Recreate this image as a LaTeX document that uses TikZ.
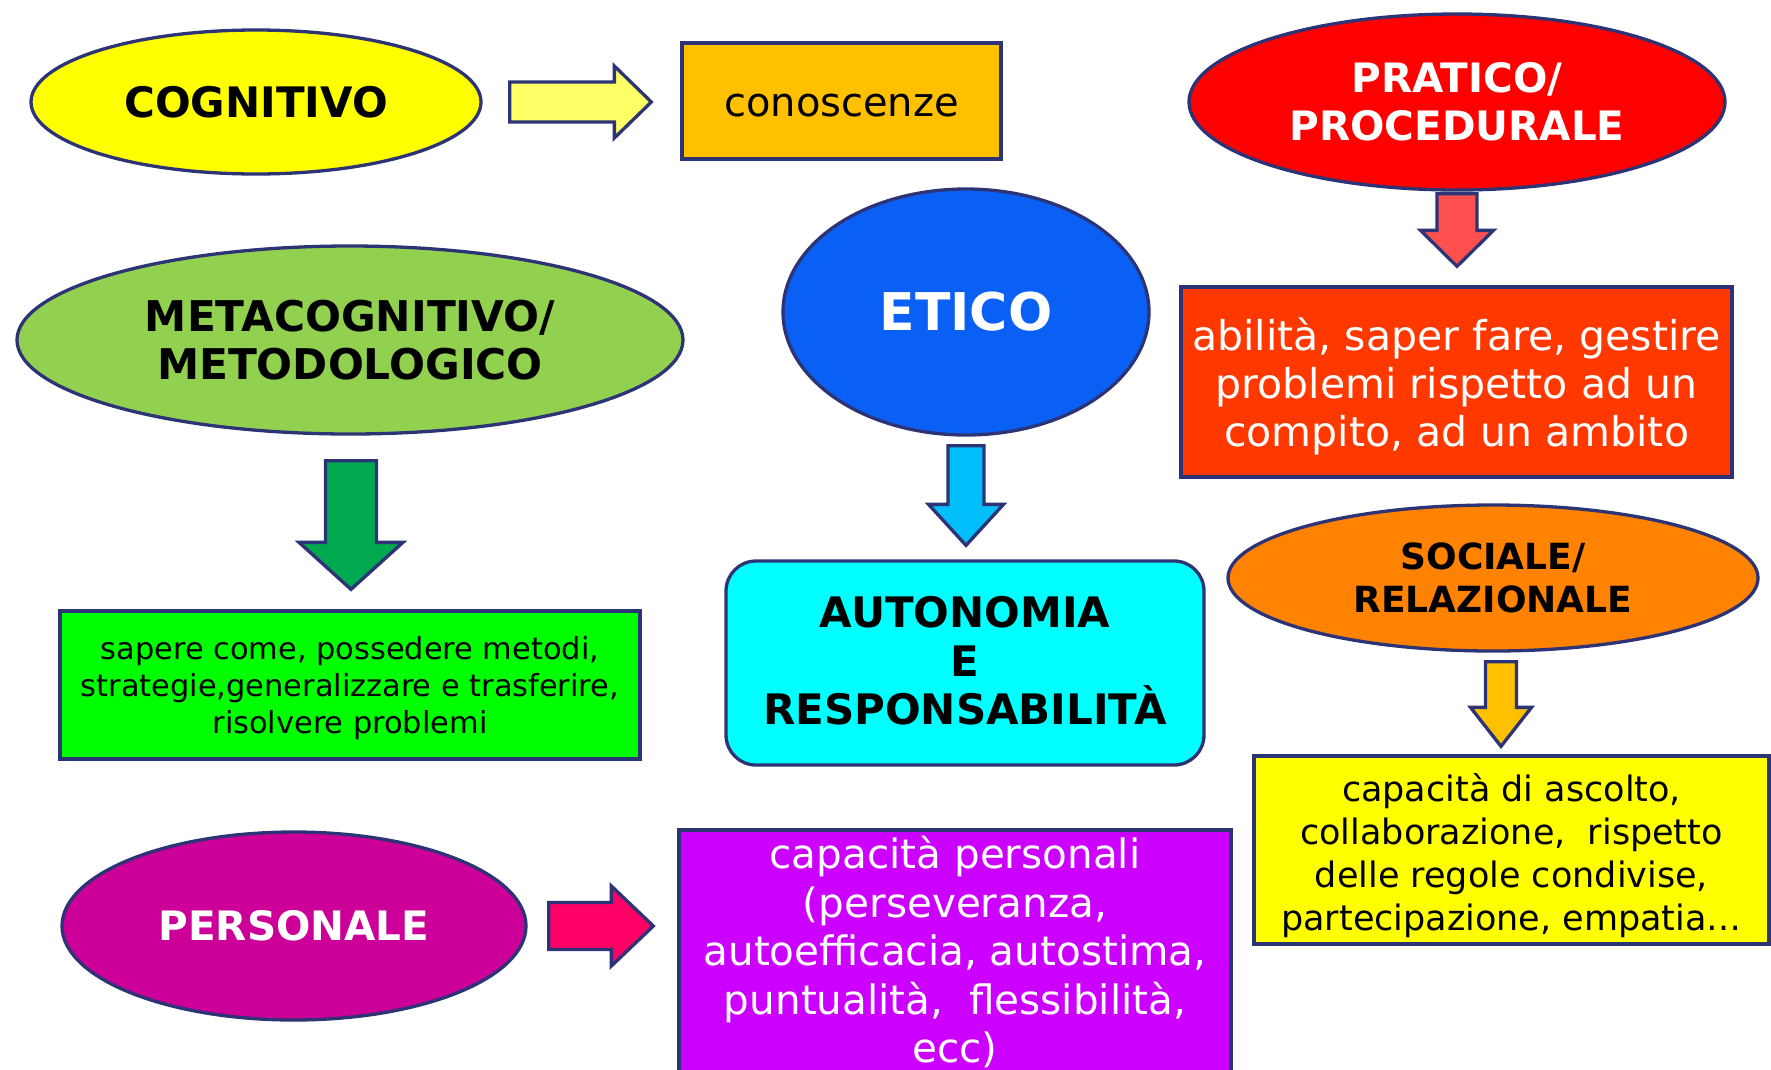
\documentclass[tikz,border=0pt]{standalone}
\usepackage{fontspec}
\setmainfont{DejaVu Sans}
\usepackage{xcolor}
\usepackage{tikz}
\usetikzlibrary{shapes,calc}

\definecolor{bordo}{RGB}{44,52,118}
\definecolor{giallo}{RGB}{255,255,0}
\definecolor{giallino}{RGB}{255,255,102}
\definecolor{arancio}{RGB}{255,192,0}
\definecolor{rosso}{RGB}{255,0,0}
\definecolor{rossino}{RGB}{255,80,80}
\definecolor{rossoarancio}{RGB}{255,56,0}
\definecolor{blu}{RGB}{10,96,245}
\definecolor{azzurro}{RGB}{0,190,250}
\definecolor{ciano}{RGB}{0,255,255}
\definecolor{verdino}{RGB}{146,208,80}
\definecolor{verdescuro}{RGB}{0,168,80}
\definecolor{verde}{RGB}{0,255,0}
\definecolor{aranciosc}{RGB}{255,130,0}
\definecolor{magenta}{RGB}{204,0,153}
\definecolor{fucsia}{RGB}{255,0,102}
\definecolor{viola}{RGB}{204,0,255}

\tikzset{
    ellisse/.style={ellipse, draw=bordo, line width=3.3pt, inner sep=0pt,
                    align=center},
    scatola/.style={rectangle, draw=bordo, line width=3.3pt, inner sep=0pt,
                    align=center},
    freccia/.style={draw=bordo, line width=3.3pt, line join=miter}
}

\begin{document}
\begin{tikzpicture}[x=1pt, y=-1pt]
        \useasboundingbox (0,0) rectangle (1771,1069);

        % Block arrow: #1 colour, #2 start, #3 tip, #4 half shaft, #5 half head, #6 head length
        \newcommand{\bloccoFreccia}[6]{
            \coordinate (base) at ($(#3)!#6!(#2)$);
            \draw[freccia, fill=#1] ($(#2)!#4!90:(#3)$) -- ($(base)!#4!90:(#3)$)
                -- ($(base)!#5!90:(#3)$) -- (#3) -- ($(base)!#5!-90:(#3)$)
                -- ($(base)!#4!-90:(#3)$) -- ($(#2)!#4!-90:(#3)$) -- cycle;
        }

        % Row 1
        \node[ ellisse, fill=giallo,
               minimum width=450, minimum height=144,
               font=\fontsize{42}{50}\bfseries ] (cogn) at (256,102) {COGNITIVO};

        \node[ scatola, fill=arancio,
               minimum width=319, minimum height=116,
               font=\fontsize{40}{48}\selectfont ] (con) at (841.5,101) {\rule{0pt}{31pt}conoscenze};

        \node[ ellisse, fill=rosso, text=white,
               minimum width=536, minimum height=176,
               font=\fontsize{40.5}{48.5}\bfseries ] (prat) at (1457,102) {PRATICO/\\PROCEDURALE};

        % Row 2
        \node[ scatola, fill=rossoarancio, text=white,
               minimum width=551, minimum height=190,
               font=\fontsize{41}{48}\selectfont ] (abil) at (1456.5,382)
               {\rule{0pt}{41pt}abilità, saper fare, gestire\\problemi rispetto ad un\\compito, ad un ambito};

        \node[ ellisse, fill=verdino,
               minimum width=666, minimum height=188,
               font=\fontsize{42.3}{47.5}\bfseries ] (meta) at (350,340) {METACOGNITIVO/\\METODOLOGICO};

        \node[ ellisse, fill=blu, text=white,
               minimum width=366, minimum height=246,
               font=\fontsize{52}{60}\bfseries ] (etico) at (966,312) {ETICO};

        % Row 3
        \node[ scatola, fill=verde,
               minimum width=580, minimum height=148,
               font=\fontsize{30.4}{37}\selectfont ] (strat) at (350,685)
               {\rule{0pt}{30pt}sapere come, possedere metodi,\\strategie,generalizzare e trasferire,\\risolvere problemi};

        \node[ scatola, fill=ciano, rounded corners=30,
               minimum width=478, minimum height=204,
               font=\fontsize{42}{48.5}\bfseries ] (auton) at (965,663)
               {AUTONOMIA\\E\\RESPONSABILITÀ\rule[-5pt]{0pt}{1pt}};

        \node[ ellisse, fill=aranciosc,
               minimum width=530, minimum height=146,
               font=\fontsize{36}{43}\bfseries ] (soc) at (1493,578) {SOCIALE/\\RELAZIONALE};

        % Row 4
        \node[ scatola, fill=giallo,
               minimum width=515, minimum height=188,
               font=\fontsize{35}{43}\selectfont ] (ascolto) at (1511.5,850)
               {\rule{0pt}{39pt}capacità di ascolto,\\collaborazione,~ rispetto\\delle regole condivise,\\partecipazione, empatia…};

        \node[ ellisse, fill=magenta, text=white,
               minimum width=464, minimum height=188,
               font=\fontsize{40.5}{48}\bfseries ] (pers) at (294,926) {PERSONALE};

        \node[ scatola, fill=viola, text=white,
               minimum width=552, minimum height=244,
               font=\fontsize{40.5}{48.5}\selectfont ] (capp) at (955,952)
               {capacità personali\\(perseveranza,\\autoefficacia, autostima,\\puntualità,~ flessibilità,\\ecc)};

        % Arrows
        \coordinate (f1a) at ($(cogn.east)+(27,0)$);
        \coordinate (f1b) at ($(cogn.east -| con.west)+(-29,0)$);
        \bloccoFreccia{giallino}{f1a}{f1b}{20pt}{36pt}{37pt}

        \coordinate (f2a) at ($(prat.south)+(0,2)$);
        \coordinate (f2b) at ($(prat.south |- abil.north)+(0,-19)$);
        \bloccoFreccia{rossino}{f2a}{f2b}{20pt}{36.5pt}{36pt}

        \coordinate (f3a) at ($(meta.south)+(1,25)$);
        \coordinate (f3b) at ($(meta.south |- strat.north)+(1,-20)$);
        \bloccoFreccia{verdescuro}{f3a}{f3b}{25.5pt}{52pt}{47pt}

        \coordinate (f4a) at ($(etico.south)+(0,9)$);
        \coordinate (f4b) at ($(etico.south |- auton.north)+(0,-14)$);
        \bloccoFreccia{azzurro}{f4a}{f4b}{18pt}{37.5pt}{41pt}

        \coordinate (f5a) at ($(soc.south)+(8,9)$);
        \coordinate (f5b) at ($(soc.south |- ascolto.north)+(8,-8)$);
        \bloccoFreccia{arancio}{f5a}{f5b}{15.5pt}{30.5pt}{39pt}

        \coordinate (f6a) at ($(pers.east)+(21,0)$);
        \coordinate (f6b) at ($(pers.east -| capp.west)+(-24,0)$);
        \bloccoFreccia{fucsia}{f6a}{f6b}{23.5pt}{40pt}{42pt}

\end{tikzpicture}
\end{document}
